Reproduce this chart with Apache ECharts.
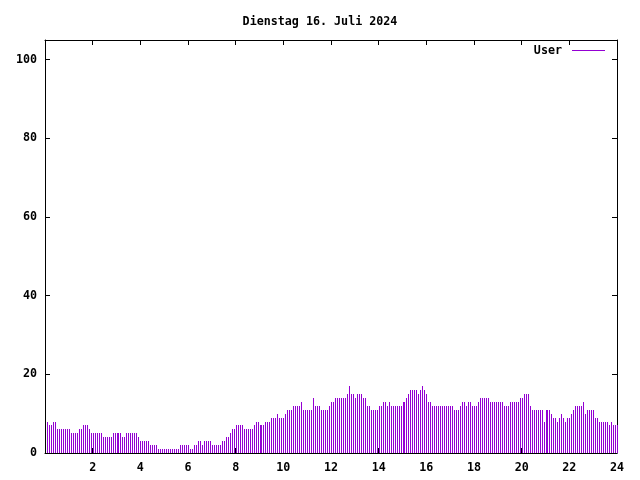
<!DOCTYPE html>
<html>
<head>
<meta charset="utf-8">
<script src="https://cdn.jsdelivr.net/npm/echarts@6/dist/echarts.min.js"></script>
<style>html,body{margin:0;padding:0;background:#fff}#c{width:640px;height:480px}</style>
</head>
<body>
<div id="c"></div>
<script>
var title = "Dienstag 16. Juli 2024";
var seriesName = "User";
var stepMinutes = 5;
// runs of [value, count], 5-minute samples from 00:05 to 24:00
var userRuns = [
  [8,1],[7,2],[8,2],[6,7],[5,4],[6,2],[7,3],[6,1],[5,6],[4,5],[5,5],[4,2],[5,6],[4,1],
  [3,5],[2,4],[1,11],[2,5],[1,2],[2,2],[3,2],[2,1],[3,4],[2,5],[3,2],[4,2],[5,1],[6,2],
  [7,4],[6,5],[7,1],[8,2],[7,3],[8,3],[9,3],[10,1],[9,3],[10,1],[11,3],[12,4],[13,1],
  [11,5],[14,1],[12,3],[11,4],[12,1],[13,2],[14,6],[15,1],[17,1],[15,2],[14,1],[15,3],
  [14,2],[12,2],[11,4],[12,2],[13,2],[12,1],[13,1],[12,6],[13,2],[14,1],[15,1],[16,4],
  [15,1],[16,1],[17,1],[16,1],[15,1],[13,2],[12,11],[11,3],[12,1],[13,2],[12,1],[13,2],
  [12,3],[13,1],[14,5],[13,7],[12,3],[13,5],[14,2],[15,3],[12,1],[11,6],[8,1],[11,3],
  [10,1],[9,2],[8,1],[9,1],[10,1],[9,1],[8,1],[9,2],[10,1],[11,1],[12,4],[13,1],[10,1],
  [11,4],[9,2],[8,5],[7,1],[8,1],[7,3]
];
var xTicks = [0,2,4,6,8,10,12,14,16,18,20,22,24];
var yTicks = [0,20,40,60,80,100];

var userValues = [];
userRuns.forEach(function(r){ for (var k=0;k<r[1];k++) userValues.push(r[0]); });
var data = userValues.map(function(v, i){ return [(i+1)*stepMinutes/60, v]; });

var font = "DejaVu Sans Mono";
var lbl = {fontFamily: font, fontWeight: 'bold', fontSize: 11.7, color: '#000'};
var purple = '#9400D3';
function axisCommon() {
  return {
    axisLine: {show: true, onZero: false, lineStyle: {color: '#000', width: 1}},
    axisTick: {show: true, inside: true, length: 5, lineStyle: {color: '#000'}},
    splitLine: {show: false}
  };
}
var chart = echarts.init(document.getElementById('c'), null, {renderer: 'canvas'});
chart.setOption({
  animation: false,
  backgroundColor: '#fff',
  title: {text: title, left: 'center', top: 11, textStyle: {fontFamily: font, fontWeight: 'bold', fontSize: 11.7, color: '#000'}},
  legend: {data: [{name: seriesName, icon: 'path://M0,0H33V1H0Z'}], right: 30, top: 39, align: 'right',
    itemWidth: 33, itemHeight: 1, itemStyle: {color: purple}, selectedMode: false,
    textStyle: Object.assign({lineHeight: 13, height: 13, padding: [0, 5, 0, 0]}, lbl)},
  grid: {left: 45, right: 23, top: 40, bottom: 27, show: false},
  xAxis: [
    Object.assign({type: 'value', min: 0, max: 24, interval: 2, position: 'bottom',
     axisLabel: Object.assign({margin: 9, showMinLabel: false, formatter: function(v){ return xTicks.indexOf(v) > 0 ? String(v) : ''; }}, lbl)}, axisCommon()),
    Object.assign({type: 'value', min: 0, max: 24, interval: 2, position: 'top',
     axisLabel: {show: false}}, axisCommon())
  ],
  yAxis: [
    Object.assign({type: 'value', min: 0, max: 105, interval: 20, position: 'left',
     axisLabel: Object.assign({margin: 8, showMaxLabel: false, formatter: function(v){ return yTicks.indexOf(v) >= 0 ? String(v) : ''; }}, lbl)}, axisCommon()),
    Object.assign({type: 'value', min: 0, max: 105, interval: 20, position: 'right',
     axisLabel: {show: false}}, axisCommon())
  ],
  series: [{
    name: seriesName, type: 'custom', xAxisIndex: 0, yAxisIndex: 0, data: data,
    itemStyle: {color: purple},
    renderItem: function(params, api) {
      var top = api.coord([api.value(0), api.value(1)]);
      var base = api.coord([api.value(0), 0]);
      var x = Math.round(top[0]);
      var y0 = Math.round(top[1]);
      var y1 = Math.round(base[1]);
      return {type: 'rect', shape: {x: x, y: y0, width: 1, height: y1 - y0}, style: {fill: purple}};
    },
    z: 1
  }]
});
</script>
</body>
</html>
